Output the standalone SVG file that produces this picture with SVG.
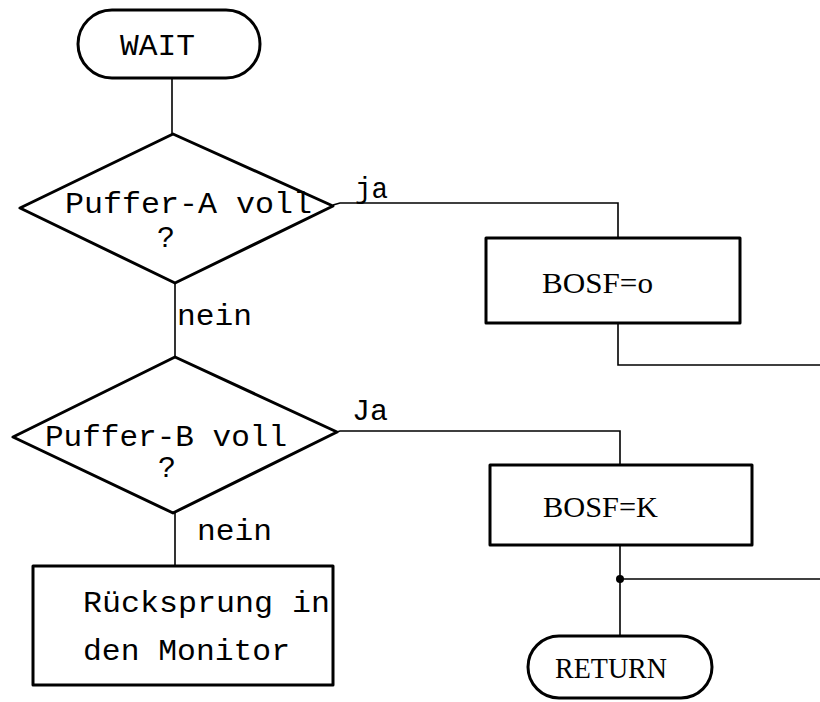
<svg xmlns="http://www.w3.org/2000/svg" width="820" height="702" viewBox="0 0 820 702">
<style>
.shape{fill:none;stroke:#000;stroke-width:3;stroke-linejoin:round}
.conn{fill:none;stroke:#000;stroke-width:1.6}
.mono{font-family:"Liberation Mono","DejaVu Sans Mono",monospace;font-size:30px;fill:#000}
.ser{font-family:"Liberation Serif","DejaVu Serif",serif;font-size:29px;fill:#000}
</style>
<rect width="820" height="702" fill="#fff"/>
<g id="connectors">
<path class="conn" d="M172,78 V134"/>
<path class="conn" d="M333,205 L340,203 H618 V238"/>
<path class="conn" d="M618,323 V365 H820"/>
<path class="conn" d="M175,283 V357"/>
<path class="conn" d="M337,432 L340,431 H620 V465"/>
<path class="conn" d="M175,513 V566"/>
<path class="conn" d="M620,545 V635"/>
<path class="conn" d="M620,579 H820"/>
<circle cx="620" cy="579" r="4" fill="#000"/>
<text class="mono" x="355" y="198" textLength="33" lengthAdjust="spacingAndGlyphs">ja</text>
<text class="mono" x="177" y="325" textLength="75" lengthAdjust="spacingAndGlyphs">nein</text>
<text class="mono" x="352" y="420" textLength="36" lengthAdjust="spacingAndGlyphs">Ja</text>
<text class="mono" x="197" y="540" textLength="75" lengthAdjust="spacingAndGlyphs">nein</text>
</g>
<g id="wait">
<rect class="shape" x="78" y="10" width="182" height="68" rx="34"/>
<text class="mono" x="120" y="55" textLength="75" lengthAdjust="spacingAndGlyphs">WAIT</text>
</g>
<g id="pufferA">
<polygon class="shape" points="173,134 333,206 175,283 20,208"/>
<text class="mono" x="65" y="213" textLength="247" lengthAdjust="spacingAndGlyphs">Puffer-A voll</text>
<text class="mono" x="157" y="247">?</text>
</g>
<g id="bosf0">
<rect class="shape" x="486" y="238" width="254" height="85"/>
<text class="ser" x="542" y="293" textLength="111" lengthAdjust="spacingAndGlyphs">BOSF=o</text>
</g>
<g id="pufferB">
<polygon class="shape" points="175,357 337,432 173,513 13,437"/>
<text class="mono" x="45" y="446" textLength="242" lengthAdjust="spacingAndGlyphs">Puffer-B voll</text>
<text class="mono" x="158" y="477">?</text>
</g>
<g id="ruecksprung">
<rect class="shape" x="33" y="566" width="300" height="119"/>
<text class="mono" x="83" y="612" textLength="247" lengthAdjust="spacingAndGlyphs">Rücksprung in</text>
<text class="mono" x="83" y="660" textLength="207" lengthAdjust="spacingAndGlyphs">den Monitor</text>
</g>
<g id="bosfK">
<rect class="shape" x="490" y="465" width="262" height="80"/>
<text class="ser" x="543" y="517" textLength="115" lengthAdjust="spacingAndGlyphs">BOSF=K</text>
</g>
<g id="return">
<rect class="shape" x="528" y="636" width="184" height="62" rx="31"/>
<text class="ser" x="555" y="678" textLength="112" lengthAdjust="spacingAndGlyphs">RETURN</text>
</g>
</svg>
